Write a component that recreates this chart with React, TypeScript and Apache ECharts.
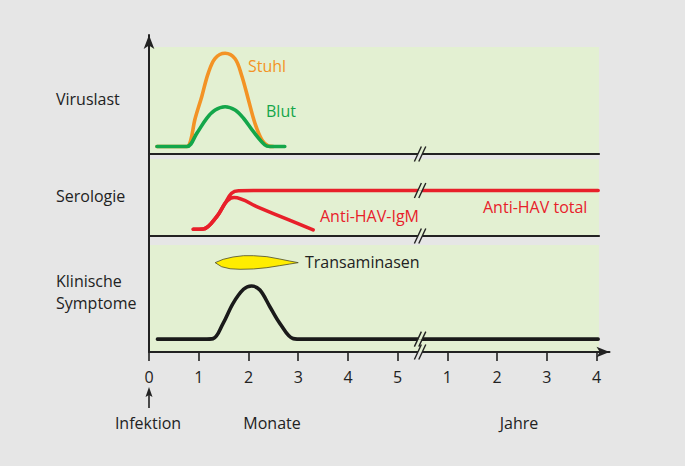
import React, { useEffect, useRef } from 'react';
import * as echarts from 'echarts';

// ---- data ----
const xTickValues = [0, 1, 2, 3, 4, 5, 6, 7, 8, 9];
const xTickLabels = ['0', '1', '2', '3', '4', '5', '1', '2', '3', '4'];
const breakX = 5.45;

// Viruslast panel (0..100 relative height)
const stuhl: number[][] = [
  [0.16, 7], [0.76, 7], [0.84, 13], [0.92, 31.8], [1.06, 53.6], [1.19, 75.4], [1.33, 89.4],
  [1.53, 94.1], [1.73, 89], [1.86, 73.8], [2.0, 50.5], [2.13, 28.7], [2.27, 13.1], [2.4, 7.5], [2.5, 7],
];
const blut: number[][] = [
  [0.16, 7], [0.76, 7], [0.96, 19.3], [1.16, 33.4], [1.33, 41.1], [1.53, 44.2], [1.73, 41.1],
  [1.9, 33.4], [2.1, 20.8], [2.33, 8.4], [2.43, 7], [2.73, 7],
];
// Serologie panel
const antiHavTotal: number[][] = [
  [0.89, 8.7], [1.09, 9], [1.36, 25], [1.53, 42.5], [1.66, 55.5], [1.8, 58.8], [2.1, 59], [9.03, 59],
];
const antiHavIgM: number[][] = [
  [0.89, 8.7], [1.09, 9], [1.36, 25], [1.53, 42.5], [1.64, 49], [1.71, 50], [2.2, 37.1], [2.8, 21.2], [3.3, 8],
];
// Klinische Symptome panel
const symptome: number[][] = [
  [0.17, 12], [1.1, 12], [1.29, 12.5], [1.49, 26.8], [1.69, 45.5], [1.9, 58.6], [2.06, 61.7],
  [2.23, 57.9], [2.43, 42.3], [2.63, 26.8], [2.9, 12.5], [3.1, 12], [9.03, 12],
];
const transaminasen: number[][] = [
  [1.33, 83.5], [1.49, 86.6], [1.69, 88.8], [1.9, 90.0], [2.1, 90.0], [2.37, 89.1], [2.63, 86.9],
  [2.83, 85.0], [3.0, 83.5], [2.83, 82.2], [2.63, 80.7], [2.37, 78.8], [2.1, 77.6], [1.83, 77.3],
  [1.63, 77.8], [1.46, 79.7],
];
// break marks: [x, y, topGreen, bottomGreen]
const breaksPanelA: number[][] = [[breakX, 0, 1, 0]];
const breaksPanelB: number[][] = [[breakX, 59, 1, 1], [breakX, 0, 1, 0]];
const breaksPanelC: number[][] = [[breakX, 12, 1, 1]];
const breaksAxis: number[][] = [[breakX, 0, 1, 0]];

const FONT = '"Open Sans", sans-serif';
const GREEN_BG = '#e3f0d2';
const GRAY_BG = '#e6e6e6';
const INK = '#222222';
const ORANGE = '#f39325';
const GREEN = '#14a64a';
const RED = '#e8202a';

const LEFT = 149;
const UNIT = 49.74;

function breakRender(params: any, api: any) {
  const p = api.coord([api.value(0), api.value(1)]);
  const cx = p[0];
  const cy = p[1];
  const dx = 3.5;
  const dy = 7.5;
  const gap = 2.2;
  const h = 2.6;
  const o = (dx * h) / dy;
  const top = api.value(2) ? GREEN_BG : GRAY_BG;
  const bottom = api.value(3) ? GREEN_BG : GRAY_BG;
  return {
    type: 'group',
    children: [
      {
        type: 'polygon',
        shape: { points: [[cx - gap, cy], [cx - gap + o, cy - h], [cx + gap + o, cy - h], [cx + gap, cy]] },
        style: { fill: top },
      },
      {
        type: 'polygon',
        shape: { points: [[cx - gap, cy], [cx - gap - o, cy + h], [cx + gap - o, cy + h], [cx + gap, cy]] },
        style: { fill: bottom },
      },
      {
        type: 'line',
        shape: { x1: cx - gap - dx, y1: cy + dy, x2: cx - gap + dx, y2: cy - dy },
        style: { stroke: INK, lineWidth: 1.4 },
      },
      {
        type: 'line',
        shape: { x1: cx + gap - dx, y1: cy + dy, x2: cx + gap + dx, y2: cy - dy },
        style: { stroke: INK, lineWidth: 1.4 },
      },
    ],
  };
}

function txt(text: string, x: number, y: number, fill: string, align = 'left') {
  return {
    type: 'text',
    z: 50,
    style: {
      text,
      x,
      y,
      fill,
      fontSize: 16,
      fontFamily: FONT,
      textAlign: align,
      textVerticalAlign: 'middle',
      align,
      verticalAlign: 'middle',
    },
  };
}

export default function App() {
  const ref = useRef<HTMLDivElement>(null);
  useEffect(() => {
    document.body.style.margin = '0';
    const chart = echarts.init(ref.current!, undefined, { renderer: 'svg' });
    const panelW = 450;
    const panelMax = panelW / UNIT;
    const frameW = 460.5;
    const frameMax = frameW / UNIT;
    const panelGrid = (top: number, height: number) => ({
      left: LEFT, top, width: panelW, height, show: true, backgroundColor: GREEN_BG, borderWidth: 0,
    });
    const panelX = (gridIndex: number, showLine: boolean) => ({
      type: 'value', gridIndex, min: 0, max: panelMax,
      axisLine: { show: showLine, lineStyle: { color: INK, width: 2.2 } },
      axisTick: { show: false }, axisLabel: { show: false }, splitLine: { show: false },
    });
    const panelY = (gridIndex: number) => ({
      type: 'value', gridIndex, min: 0, max: 100, show: false,
      axisLine: { show: false }, axisTick: { show: false }, axisLabel: { show: false }, splitLine: { show: false },
    });
    const lineS = (data: number[][], xi: number, color: string, z = 3) => ({
      type: 'line', xAxisIndex: xi, yAxisIndex: xi, data, smooth: 0.35, showSymbol: false, symbol: 'none',
      lineStyle: { color, width: 3.6, cap: 'round', join: 'round' }, z, silent: true,
    });
    const breakS = (data: number[][], xi: number) => ({
      type: 'custom', xAxisIndex: xi, yAxisIndex: xi, data, renderItem: breakRender, z: 10, silent: true,
    });

    chart.setOption({
      animation: false,
      backgroundColor: GRAY_BG,
      grid: [
        panelGrid(47, 107),
        panelGrid(159, 77),
        panelGrid(245, 107),
        { left: LEFT, top: 35, width: frameW, height: 317, show: false },
      ],
      xAxis: [
        panelX(0, true),
        panelX(1, true),
        panelX(2, false),
        {
          type: 'value', gridIndex: 3, min: 0, max: frameMax, interval: 1,
          axisLine: { show: true, symbol: ['none', 'arrow'], symbolSize: [8, 13], lineStyle: { color: INK, width: 2 } },
          axisTick: { show: true, customValues: xTickValues, length: 9, lineStyle: { color: INK, width: 1.6 } },
          axisLabel: {
            show: true, customValues: xTickValues, margin: 17, color: INK, fontSize: 16, fontFamily: FONT,
            formatter: (v: number) => {
              const i = xTickValues.indexOf(v);
              return i >= 0 ? xTickLabels[i] : '';
            },
          },
          splitLine: { show: false },
        },
      ],
      yAxis: [
        panelY(0),
        panelY(1),
        panelY(2),
        {
          type: 'value', gridIndex: 3, min: 0, max: 1,
          axisLine: { show: true, symbol: ['none', 'arrow'], symbolSize: [8, 14], lineStyle: { color: INK, width: 2 } },
          axisTick: { show: false }, axisLabel: { show: false }, splitLine: { show: false },
        },
      ],
      series: [
        lineS(stuhl, 0, ORANGE, 3),
        lineS(blut, 0, GREEN, 4),
        lineS(antiHavTotal, 1, RED, 3),
        lineS(antiHavIgM, 1, RED, 3),
        lineS(symptome, 2, '#1a1a1a', 3),
        {
          type: 'custom', xAxisIndex: 2, yAxisIndex: 2, data: [transaminasen[0]], z: 5, silent: true,
          renderItem: (params: any, api: any) => ({
            type: 'polygon',
            shape: { points: transaminasen.map((p) => api.coord(p)) },
            style: { fill: '#ffed00', stroke: '#4a4a2a', lineWidth: 0.8 },
          }),
        },
        breakS(breaksPanelA, 0),
        breakS(breaksPanelB, 1),
        breakS(breaksPanelC, 2),
        breakS(breaksAxis, 3),
      ],
      graphic: [
        txt('Viruslast', 56, 99, INK),
        txt('Serologie', 56, 196, INK),
        txt('Klinische', 56, 281, INK),
        txt('Symptome', 56, 303, INK),
        txt('Stuhl', 248, 66, ORANGE),
        txt('Blut', 266, 111, GREEN),
        txt('Anti-HAV-IgM', 320, 216, RED),
        txt('Anti-HAV total', 483, 207, RED),
        txt('Transaminasen', 305, 262, INK),
        txt('Infektion', 148, 423, INK, 'center'),
        txt('Monate', 272, 423, INK, 'center'),
        txt('Jahre', 519, 423, INK, 'center'),
        {
          type: 'line', z: 50,
          shape: { x1: LEFT, y1: 408, x2: LEFT, y2: 393 },
          style: { stroke: INK, lineWidth: 1.6 },
        },
        {
          type: 'polygon', z: 50,
          shape: { points: [[LEFT, 387], [LEFT + 3.5, 397], [LEFT, 395], [LEFT - 3.5, 397]] },
          style: { fill: INK },
        },
      ],
    });
    return () => chart.dispose();
  }, []);
  return <div ref={ref} style={{ width: 685, height: 466 }} />;
}
